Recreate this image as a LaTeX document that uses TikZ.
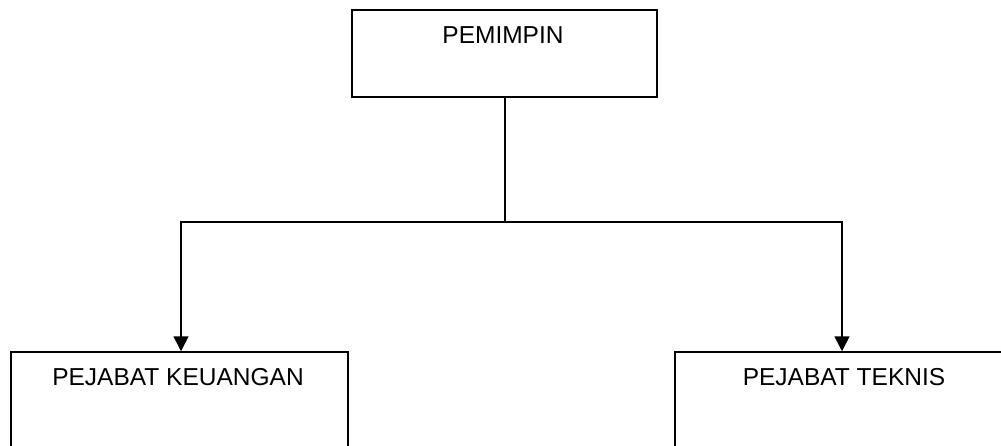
\documentclass[tikz,border=0pt]{standalone}
\usepackage{fontspec}
\setmainfont{Liberation Sans}
\usetikzlibrary{arrows.meta}
\begin{document}
\begin{tikzpicture}[x=1pt,y=-1pt,
  box/.style={draw=black, line width=1.5pt, rectangle, inner sep=0pt},
  lbl/.style={anchor=base, inner sep=0pt, font=\fontsize{24.5}{28}\selectfont},
  conn/.style={draw=black, line width=1.6pt},
  arr/.style={conn, -{Triangle[length=15pt,width=15pt]}}]
\useasboundingbox (0,0) rectangle (1001,445);
\clip (0,0) rectangle (1001,445);
\fill[white] (0,0) rectangle (1001,445);
% boxes
\node[box, minimum width=305pt, minimum height=87pt] (top) at (504.5,53.5) {};
\node[box, minimum width=337pt, minimum height=110pt] (left) at (179.5,407) {};
\node[box, minimum width=340pt, minimum height=110pt] (right) at (845,407) {};
% labels
\node[lbl] (ttop) at (503,43) {PEMIMPIN};
\node[lbl] (tleft) at (178,385) {PEJABAT KEUANGAN};
\node[lbl] (tright) at (844,385) {PEJABAT TEKNIS};
% connectors
\coordinate (j) at (505,222);
\coordinate (hl) at (181,222);
\coordinate (hr) at (842,222);
\draw[conn, line cap=rect] (top.south -| j) -- (j);
\draw[conn, line cap=rect] (hl) -- (hr);
\draw[arr] (hl) -- (hl |- left.north);
\draw[arr] (hr) -- (hr |- right.north);
\end{tikzpicture}
\end{document}
